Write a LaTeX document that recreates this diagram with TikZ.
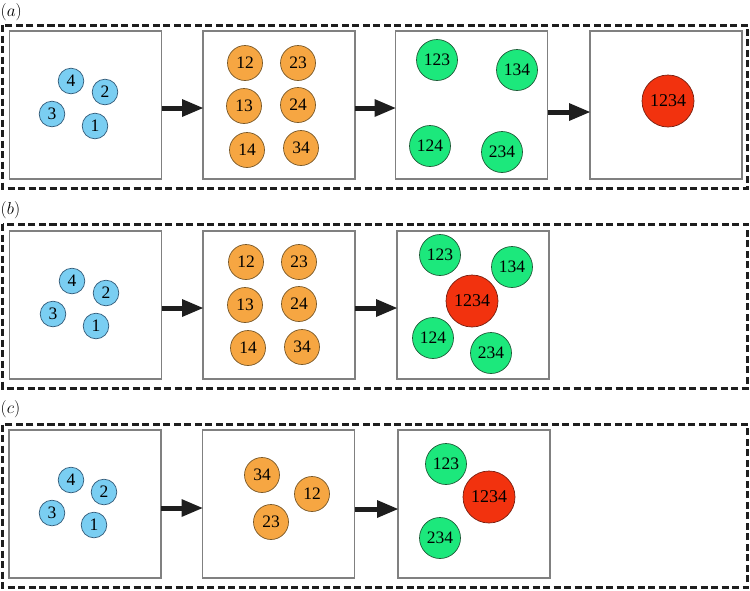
\documentclass[tikz,border=0pt]{standalone}
\usepackage{fontspec}
\newfontfamily\numfont{Liberation Serif}
\usetikzlibrary{arrows.meta}
\definecolor{cblue}{RGB}{122,206,242}
\definecolor{cblueline}{RGB}{50,90,120}
\definecolor{corange}{RGB}{246,166,66}
\definecolor{corangeline}{RGB}{120,88,40}
\definecolor{cgreen}{RGB}{28,232,124}
\definecolor{cgreenline}{RGB}{30,90,55}
\definecolor{cred}{RGB}{242,50,14}
\definecolor{credline}{RGB}{120,30,15}
\definecolor{boxgray}{RGB}{128,128,128}
\definecolor{dashblack}{RGB}{30,30,30}
\definecolor{arrowblack}{RGB}{30,30,30}
\tikzset{
  stagebox/.style={draw=boxgray,line width=1.2pt,minimum width=152pt,minimum height=148pt,inner sep=0pt,outer sep=0pt},
  ball/.style={circle,inner sep=0pt,line width=0.7pt,font=\numfont\fontsize{17.5}{17.5}\selectfont},
  ballone/.style={ball,fill=cblue,draw=cblueline,minimum size=25.6pt},
  balltwo/.style={ball,fill=corange,draw=corangeline,minimum size=35pt},
  ballthree/.style={ball,fill=cgreen,draw=cgreenline,minimum size=41pt},
  ballfour/.style={ball,fill=cred,draw=credline,minimum size=52pt,font=\numfont\fontsize{18}{18}\selectfont},
  flow/.style={draw=arrowblack,line width=5pt,-{Triangle[length=21pt,width=18pt,line width=0pt]}},
  framebox/.style={draw=dashblack,line width=3pt,dash pattern=on 7pt off 3.5pt},
  lab/.style={font=\fontsize{18}{18}\selectfont,anchor=west,inner sep=0pt}
}
\begin{document}
\begin{tikzpicture}[x=1pt,y=-1pt]
\useasboundingbox (0,0) rectangle (750,590);
% panel labels
\node[lab] (la) at (0.5,12) {$(a)$};
\node[lab] (lb) at (0.5,210) {$(b)$};
\node[lab] (lc) at (0.5,409) {$(c)$};
% dashed frames
\draw[framebox] (2.5,25) rectangle (747.5,188);
\draw[framebox] (2.5,224) rectangle (747.5,388);
\draw[framebox] (2.5,424.5) rectangle (747.5,587.5);

% ---------- row (a) ----------
\node[stagebox] (a1) at (85.5,105) {};
\node[stagebox] (a2) at (279,105) {};
\node[stagebox] (a3) at (471.5,105) {};
\node[stagebox] (a4) at (666,105) {};
\node[ballone] (a1n4) at (71,81) {4};
\node[ballone] (a1n2) at (105,92) {2};
\node[ballone] (a1n3) at (52,114) {3};
\node[ballone] (a1n1) at (95,126) {1};
\node[balltwo] (a2n12) at (245,63) {12};
\node[balltwo] (a2n23) at (298,63) {23};
\node[balltwo] (a2n13) at (244,106) {13};
\node[balltwo] (a2n24) at (298,105) {24};
\node[balltwo] (a2n14) at (247,150) {14};
\node[balltwo] (a2n34) at (301,148) {34};
\node[ballthree] (a3n123) at (437,60) {123};
\node[ballthree] (a3n134) at (517,70) {134};
\node[ballthree] (a3n124) at (430,146) {124};
\node[ballthree] (a3n234) at (502,152) {234};
\node[ballfour] (a4n1234) at (668,101) {1234};
\draw[flow] ([yshift=-3pt]a1.east) -- ([yshift=-3pt]a2.west);
\draw[flow] ([yshift=-3pt]a2.east) -- ([yshift=-3pt]a3.west);
\draw[flow] ([yshift=-7pt]a3.east) -- ([yshift=-7pt]a4.west);

% ---------- row (b) ----------
\node[stagebox] (b1) at (85.5,305) {};
\node[stagebox] (b2) at (279,305) {};
\node[stagebox] (b3) at (473,305) {};
\node[ballone] (b1n4) at (72,281) {4};
\node[ballone] (b1n2) at (106,293) {2};
\node[ballone] (b1n3) at (53,314) {3};
\node[ballone] (b1n1) at (96,326) {1};
\node[balltwo] (b2n12) at (246,262) {12};
\node[balltwo] (b2n23) at (299,262) {23};
\node[balltwo] (b2n13) at (245,305) {13};
\node[balltwo] (b2n24) at (299,304) {24};
\node[balltwo] (b2n14) at (248,348) {14};
\node[balltwo] (b2n34) at (302,347) {34};
\node[ballthree] (b3n123) at (440,255) {123};
\node[ballthree] (b3n134) at (512,267) {134};
\node[ballfour] (b3n1234) at (472,301) {1234};
\node[ballthree] (b3n124) at (433,338) {124};
\node[ballthree] (b3n234) at (491,353) {234};
\draw[flow] ([yshift=-3pt]b1.east) -- ([yshift=-3pt]b2.west);
\draw[flow] ([yshift=-3pt]b2.east) -- ([yshift=-3pt]b3.west);

% ---------- row (c) ----------
\node[stagebox] (c1) at (85,504) {};
\node[stagebox] (c2) at (278.5,504) {};
\node[stagebox] (c3) at (474,504) {};
\node[ballone] (c1n4) at (71,480) {4};
\node[ballone] (c1n2) at (104,492) {2};
\node[ballone] (c1n3) at (52,513) {3};
\node[ballone] (c1n1) at (94,525) {1};
\node[balltwo] (c2n34) at (262,475) {34};
\node[balltwo] (c2n12) at (312,494) {12};
\node[balltwo] (c2n23) at (271,522) {23};
\node[ballthree] (c3n123) at (446,464) {123};
\node[ballfour] (c3n1234) at (489,497) {1234};
\node[ballthree] (c3n234) at (440,538) {234};
\draw[flow] ([yshift=-4pt]c1.east) -- ([yshift=-4pt]c2.west);
\draw[flow] ([yshift=-5pt]c2.east) -- ([yshift=-5pt]c3.west);
\end{tikzpicture}
\end{document}
